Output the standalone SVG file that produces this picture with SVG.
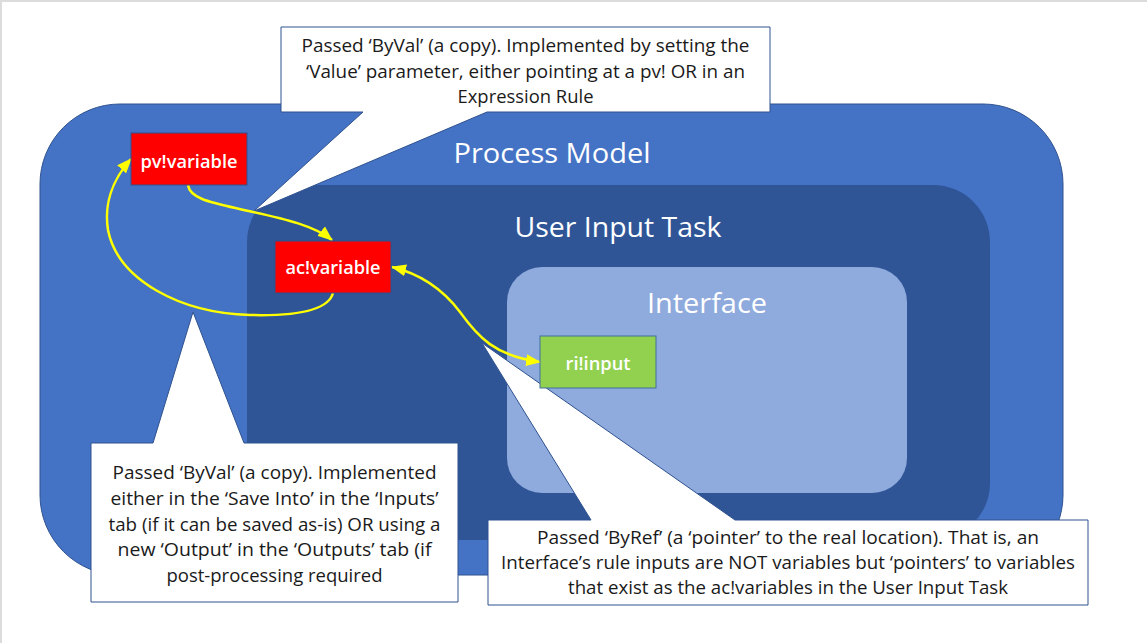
<svg xmlns="http://www.w3.org/2000/svg" width="1147" height="643" viewBox="0 0 1147 643">
  <defs>
    <style>
      .title { font-family: "Open Sans", "Noto Sans", "Liberation Sans", sans-serif; font-size: 28px; fill: #ffffff; text-anchor: middle; }
      .node-label { font-family: "Open Sans", "Noto Sans", "Liberation Sans", sans-serif; font-size: 18px; font-weight: 600; fill: #ffffff; text-anchor: middle; }
      .note { font-family: "Open Sans", "Noto Sans", "Liberation Sans", sans-serif; font-size: 17.5px; fill: #1a1a1a; text-anchor: middle; }
      .callout { fill: #ffffff; stroke: #2F528F; stroke-width: 1; }
      .link { fill: none; stroke: #FFFF00; stroke-width: 2.5; }
      .var { fill: #FF0000; stroke: #2F528F; stroke-width: 1; }
      .input { fill: #92D050; stroke: #41719C; stroke-width: 1; }
    </style>
    <marker id="arrow" markerUnits="userSpaceOnUse" markerWidth="15" markerHeight="12" viewBox="0 0 15 12" refX="14" refY="6" orient="auto-start-reverse">
      <path d="M0,0 L15,6 L0,12 Z" fill="#FFFF00"/>
    </marker>
  </defs>

  <rect x="0" y="0" width="1147" height="643" fill="#ffffff"/>
  <path d="M1,643 V1 H1147" fill="none" stroke="#dcdcdc" stroke-width="2"/>

  <!-- Containers -->
  <g id="process-model">
    <rect x="40" y="104" width="1023" height="471" rx="80" ry="80" fill="#4472C4" stroke="#2F528F" stroke-width="1"/>
    <text class="title" x="552" y="163" textLength="197" lengthAdjust="spacingAndGlyphs">Process Model</text>
  </g>
  <g id="user-input-task">
    <rect x="247" y="185" width="743" height="355" rx="57" ry="57" fill="#2F5597"/>
    <text class="title" x="618" y="237" textLength="207" lengthAdjust="spacingAndGlyphs">User Input Task</text>
  </g>
  <g id="interface">
    <rect x="507" y="267" width="400" height="226" rx="35" ry="35" fill="#8FAADC"/>
    <text class="title" x="707" y="313" textLength="120" lengthAdjust="spacingAndGlyphs">Interface</text>
  </g>

  <!-- Callouts -->
  <g id="callout-value">
    <path class="callout" d="M281,27 H770 V112 H487 L254,211 L363,112 H281 Z"/>
    <text class="note" x="525.5" y="52" textLength="448" lengthAdjust="spacingAndGlyphs">Passed ‘ByVal’ (a copy). Implemented by setting the</text>
    <text class="note" x="525.5" y="77.5" textLength="439" lengthAdjust="spacingAndGlyphs">‘Value’ parameter, either pointing at a pv! OR in an</text>
    <text class="note" x="525.5" y="103" textLength="136" lengthAdjust="spacingAndGlyphs">Expression Rule</text>
  </g>
  <g id="callout-output">
    <path class="callout" d="M91,443 H153 L193,312 L244,443 H458 V602 H91 Z"/>
    <text class="note" x="274.5" y="479" textLength="324" lengthAdjust="spacingAndGlyphs">Passed ‘ByVal’ (a copy). Implemented</text>
    <text class="note" x="274.5" y="505" textLength="328" lengthAdjust="spacingAndGlyphs">either in the ‘Save Into’ in the ‘Inputs’</text>
    <text class="note" x="274.5" y="531" textLength="332" lengthAdjust="spacingAndGlyphs">tab (if it can be saved as-is) OR using a</text>
    <text class="note" x="274.5" y="556" textLength="314" lengthAdjust="spacingAndGlyphs">new ‘Output’ in the ‘Outputs’ tab (if</text>
    <text class="note" x="274.5" y="582" textLength="216" lengthAdjust="spacingAndGlyphs">post-processing required</text>
  </g>
  <g id="callout-byref">
    <path class="callout" d="M488,520 H591 L482,343 L735,520 H1088 V605 H488 Z"/>
    <text class="note" x="788" y="544" textLength="502" lengthAdjust="spacingAndGlyphs">Passed ‘ByRef’ (a ‘pointer’ to the real location). That is, an</text>
    <text class="note" x="788" y="569" textLength="574" lengthAdjust="spacingAndGlyphs">Interface’s rule inputs are NOT variables but ‘pointers’ to variables</text>
    <text class="note" x="788" y="594" textLength="440" lengthAdjust="spacingAndGlyphs">that exist as the ac!variables in the User Input Task</text>
  </g>

  <!-- Connectors -->
  <g id="connectors">
    <path class="link" d="M188,185 C190,200 215,203 253,212 C285,219 315,226 332,240" marker-end="url(#arrow)"/>
    <path class="link" d="M333,293 C328,312 290,316 250,315 C180,313 118,280 108,230 C104,205 112,180 131,159" marker-end="url(#arrow)"/>
    <path class="link" d="M392,267 C425,275 445,292 460,312 C478,337 495,356 540,362" marker-start="url(#arrow)" marker-end="url(#arrow)"/>
  </g>

  <!-- Nodes -->
  <g id="pv-variable">
    <rect class="var" x="131" y="133" width="116" height="52"/>
    <text class="node-label" x="189" y="168" textLength="97" lengthAdjust="spacingAndGlyphs">pv!variable</text>
  </g>
  <g id="ac-variable">
    <rect class="var" x="275" y="241" width="116" height="52"/>
    <text class="node-label" x="333" y="274" textLength="95" lengthAdjust="spacingAndGlyphs">ac!variable</text>
  </g>
  <g id="ri-input">
    <rect class="input" x="540" y="336" width="116" height="52"/>
    <text class="node-label" x="598" y="370" textLength="65" lengthAdjust="spacingAndGlyphs">ri!input</text>
  </g>
</svg>
